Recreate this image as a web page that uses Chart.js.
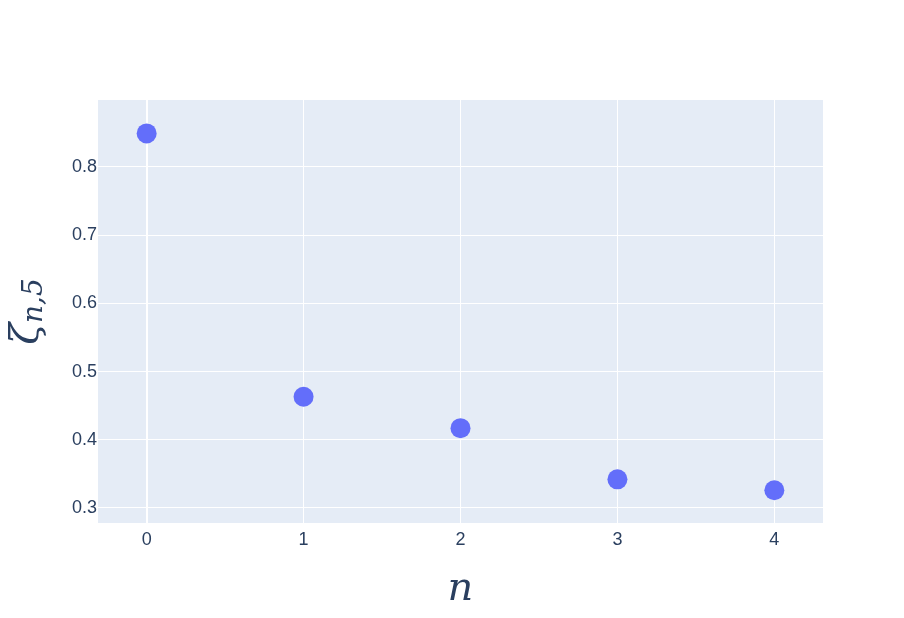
<!DOCTYPE html>
<html>
<head>
<meta charset="utf-8">
<script src="https://cdn.jsdelivr.net/npm/chart.js@4"></script>
<style>
  body { margin: 0; background: #fff; }
</style>
</head>
<body>
<canvas id="myChart" width="904" height="618"></canvas>
<script>
// data
var nValues = [0, 1, 2, 3, 4];
var zetaValues = [0.849, 0.463, 0.417, 0.342, 0.326];
var xTicks = [0, 1, 2, 3, 4];
var yTicks = [0.3, 0.4, 0.5, 0.6, 0.7, 0.8];

var points = nValues.map(function (n, i) {
  return { x: n, y: zetaValues[i] };
});

// plot background + axis titles
var plotlyLook = {
  id: "plotlyLook",
  beforeDraw: function (chart) {
    var a = chart.chartArea;
    var c = chart.ctx;
    c.save();
    c.fillStyle = "#e5ecf6";
    c.fillRect(a.left, a.top, a.right - a.left, a.bottom - a.top);
    c.restore();
  },
  afterDraw: function (chart) {
    var a = chart.chartArea;
    var c = chart.ctx;
    c.save();
    c.fillStyle = "#2a3f5f";
    c.textBaseline = "alphabetic";
    // x title
    c.font = "italic 40px 'DejaVu Serif', serif";
    c.textAlign = "center";
    c.fillText("n", (a.left + a.right) / 2, 600);
    // y title, rotated
    c.translate(38, (a.top + a.bottom) / 2);
    c.rotate(-Math.PI / 2);
    c.textAlign = "left";
    c.font = "italic 40px 'DejaVu Serif', serif";
    var w1 = c.measureText("\u03B6").width;
    c.font = "italic 28px 'DejaVu Serif', serif";
    var w2 = c.measureText("n,5").width;
    var start = -(w1 + w2) / 2;
    c.font = "italic 40px 'DejaVu Serif', serif";
    c.fillText("\u03B6", start, 0);
    c.font = "italic 28px 'DejaVu Serif', serif";
    c.fillText("n,5", start + w1, 4);
    c.restore();
  },
};

var ctx = document.getElementById("myChart").getContext("2d");
var myChart = new Chart(ctx, {
  type: "scatter",
  data: {
    datasets: [
      {
        data: points,
        backgroundColor: "#636efa",
        borderColor: "#636efa",
        pointRadius: 10,
        pointHoverRadius: 10,
        borderWidth: 0,
      },
    ],
  },
  options: {
    responsive: false,
    animation: false,
    layout: { padding: { top: 100, right: 81, left: 0, bottom: 0 } },
    plugins: {
      legend: { display: false },
      tooltip: { enabled: false },
    },
    scales: {
      x: {
        type: "linear",
        min: -0.31,
        max: 4.31,
        afterFit: function (scale) {
          scale.height = 95;
        },
        afterBuildTicks: function (scale) {
          scale.ticks = xTicks.map(function (v) { return { value: v }; });
        },
        grid: {
          drawTicks: false,
          color: "#ffffff",
          lineWidth: function (c) {
            return c.tick && c.tick.value === 0 ? 2 : 1;
          },
        },
        border: { display: false },
        ticks: {
          padding: 6,
          color: "#2a3f5f",
          font: { family: "'Liberation Sans', Arial, sans-serif", size: 18 },
        },
      },
      y: {
        min: 0.278,
        max: 0.898,
        afterFit: function (scale) {
          scale.width = 98;
        },
        afterBuildTicks: function (scale) {
          scale.ticks = yTicks.map(function (v) { return { value: v }; });
        },
        grid: { drawTicks: false, color: "#ffffff", lineWidth: 1 },
        border: { display: false },
        ticks: {
          padding: 1,
          color: "#2a3f5f",
          font: { family: "'Liberation Sans', Arial, sans-serif", size: 18 },
          callback: function (v) {
            return v.toFixed(1);
          },
        },
      },
    },
  },
  plugins: [plotlyLook],
});
</script>
</body>
</html>
